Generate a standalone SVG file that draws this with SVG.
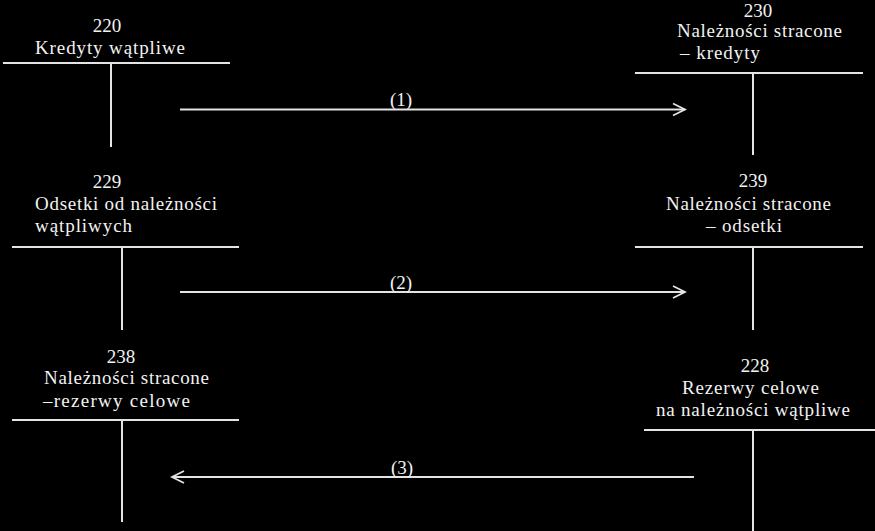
<svg xmlns="http://www.w3.org/2000/svg" width="875" height="531" viewBox="0 0 875 531">
<defs>
<marker id="chev" markerUnits="userSpaceOnUse" markerWidth="16" markerHeight="16" viewBox="-14 -8 16 16" refX="0" refY="0" orient="auto">
<polyline points="-12,-6 0,0 -12,6" fill="none" stroke="#e4e4e4" stroke-width="1.8"/>
</marker>
<style>
.t{font-family:"Liberation Serif","Times New Roman",serif;font-size:19px;fill:#f2f2f2}
.m{text-anchor:middle}
.l{stroke:#e4e4e4;stroke-width:2;fill:none}
</style>
</defs>
<rect width="875" height="531" fill="#000"/>
<g id="acc220">
<text class="t m" x="107" y="32">220</text>
<text class="t" x="35" y="54" textLength="150" lengthAdjust="spacing">Kredyty wątpliwe</text>
<line class="l" x1="3" y1="63" x2="230" y2="63"/>
<line class="l" x1="111" y1="63" x2="111" y2="147"/>
</g>
<g id="acc230">
<text class="t m" x="758" y="17">230</text>
<text class="t" x="677" y="37" textLength="165" lengthAdjust="spacing">Należności stracone</text>
<text class="t" x="680" y="59" textLength="80" lengthAdjust="spacing">– kredyty</text>
<line class="l" x1="635" y1="73" x2="863" y2="73"/>
<line class="l" x1="753" y1="73" x2="753" y2="155"/>
</g>
<g id="acc229">
<text class="t m" x="107" y="188">229</text>
<text class="t" x="35" y="210" textLength="182" lengthAdjust="spacing">Odsetki od należności</text>
<text class="t" x="35" y="232" textLength="97" lengthAdjust="spacing">wątpliwych</text>
<line class="l" x1="12" y1="247" x2="239" y2="247"/>
<line class="l" x1="122" y1="247" x2="122" y2="330"/>
</g>
<g id="acc239">
<text class="t m" x="753" y="187">239</text>
<text class="t" x="666" y="210" textLength="165" lengthAdjust="spacing">Należności stracone</text>
<text class="t" x="706" y="232" textLength="76" lengthAdjust="spacing">– odsetki</text>
<line class="l" x1="635" y1="247" x2="863" y2="247"/>
<line class="l" x1="753" y1="247" x2="753" y2="330"/>
</g>
<g id="acc238">
<text class="t m" x="121" y="363">238</text>
<text class="t" x="44" y="384" textLength="165" lengthAdjust="spacing">Należności stracone</text>
<text class="t" x="43" y="407" textLength="147" lengthAdjust="spacing">–rezerwy celowe</text>
<line class="l" x1="12" y1="420" x2="239" y2="420"/>
<line class="l" x1="122" y1="420" x2="122" y2="522"/>
</g>
<g id="acc228">
<text class="t m" x="755" y="372">228</text>
<text class="t" x="682" y="394" textLength="137" lengthAdjust="spacing">Rezerwy celowe</text>
<text class="t" x="656" y="416" textLength="194" lengthAdjust="spacing">na należności wątpliwe</text>
<line class="l" x1="644" y1="430" x2="875" y2="430"/>
<line class="l" x1="753" y1="430" x2="753" y2="531"/>
</g>
<g id="connectors">
<line class="l" x1="180" y1="109.5" x2="685" y2="109.5" marker-end="url(#chev)"/>
<text class="t m" x="401" y="106">(1)</text>
<line class="l" x1="180" y1="292" x2="685" y2="292" marker-end="url(#chev)"/>
<text class="t m" x="401" y="289">(2)</text>
<line class="l" x1="694" y1="477" x2="172" y2="477" marker-end="url(#chev)"/>
<text class="t m" x="402" y="474">(3)</text>
</g>
</svg>
